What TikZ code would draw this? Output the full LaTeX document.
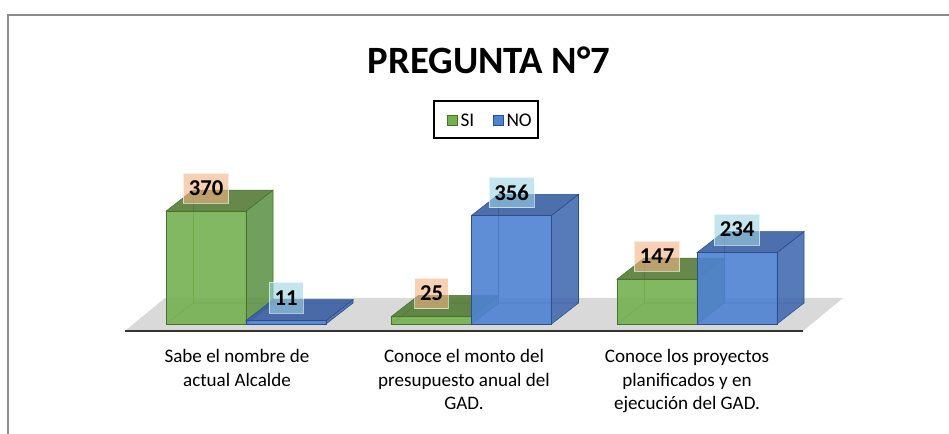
\documentclass[tikz,border=0pt]{standalone}
\usepackage{fontspec}
\setmainfont{Carlito}
\usetikzlibrary{positioning}

\definecolor{sifront}{HTML}{74B050}
\definecolor{siside}{HTML}{62954A}
\definecolor{sitop}{HTML}{557C37}
\definecolor{siedge}{HTML}{46742A}
\definecolor{nofront}{HTML}{4E82D2}
\definecolor{noside}{HTML}{456BB0}
\definecolor{notop}{HTML}{3A5FA2}
\definecolor{noedge}{HTML}{2B4E8C}
\definecolor{silabel}{HTML}{F4B183}
\definecolor{nolabel}{HTML}{9DD3E3}

\tikzstyle{frame}=[draw=black!45,line width=.8pt]
\tikzstyle{floor}=[fill=black!15]
\tikzstyle{valbox}=[draw=white,draw opacity=.6,fill opacity=.6,text opacity=1,
  inner xsep=4pt,minimum height=23pt,font=\fontsize{17}{20}\selectfont\bfseries]
\tikzstyle{catlabel}=[align=center,font=\fontsize{14.3}{17.3}\selectfont,anchor=north]
\tikzstyle{legsq}=[minimum size=8pt,inner sep=0pt,line width=.6pt]

% one translucent box: front left x, value, colour prefix
\newcommand{\drawcube}[3]{%
  \pgfmathsetmacro{\xa}{#1}
  \pgfmathsetmacro{\xb}{#1+80}
  \pgfmathsetmacro{\yt}{324-#2*0.305}
  % hidden edges
  \draw[#3edge,thin] (\xa,324) -- (\xa+27,303) -- (\xb+27,303);
  \draw[#3edge,thin] (\xa+27,303) -- (\xa+27,\yt-21);
  % faces
  \filldraw[draw=#3edge,fill=#3side,fill opacity=.9] (\xb,324) -- (\xb+27,303)
    -- (\xb+27,\yt-21) -- (\xb,\yt) -- cycle;
  \filldraw[draw=#3edge,fill=#3top,fill opacity=.9] (\xa,\yt) -- (\xa+27,\yt-21)
    -- (\xb+27,\yt-21) -- (\xb,\yt) -- cycle;
  \filldraw[draw=#3edge,fill=#3front,fill opacity=.9] (\xa,324) rectangle (\xb,\yt);
  \node[valbox,fill=#3label] (v#3#1) at (\xa+40,\yt-23) {#2};
}

\begin{document}
\begin{tikzpicture}[x=.75pt,y=-.75pt]
  \useasboundingbox (0,0) rectangle (949,434);

  % chart frame
  \draw[frame] (8,434) -- (8,15) -- (949,15);

  % title and legend
  \node[font=\fontsize{29}{34}\selectfont\bfseries] (title) at (489,60) {PREGUNTA N°7};
  \node[draw=black,line width=1.1pt,minimum width=78pt,minimum height=27.5pt] (legend) at (486,119.5) {};
  \node[legsq,draw=siedge,fill=sifront] (sqsi) at (452.5,120.5) {};
  \node[right=1.5pt of sqsi,inner sep=0pt,font=\fontsize{14.5}{17}\selectfont] (lsi) {SI};
  \node[legsq,draw=noedge,fill=nofront] (sqno) at (498.5,120.5) {};
  \node[right=1.5pt of sqno,inner sep=0pt,font=\fontsize{14.5}{17}\selectfont] (lno) {NO};

  % floor
  \fill[floor] (125,331) -- (803,331) -- (843,298) -- (165,298) -- cycle;
  \draw[line width=1.5pt,black!80] (125,331) -- (803,331);

  % bars
  \foreach \i/\si/\no in {0/370/11, 1/25/356, 2/147/234}{
    \drawcube{166+225.5*\i}{\si}{si}
    \drawcube{246+225.5*\i}{\no}{no}
  }

  % categories
  \node[catlabel] (c1) at (237,345) {Sabe el nombre de\\actual Alcalde};
  \node[catlabel] (c2) at (464,345) {Conoce el monto del\\presupuesto anual del\\GAD.};
  \node[catlabel] (c3) at (687,345) {Conoce los proyectos\\planificados y en\\ejecución del GAD.};
\end{tikzpicture}
\end{document}
